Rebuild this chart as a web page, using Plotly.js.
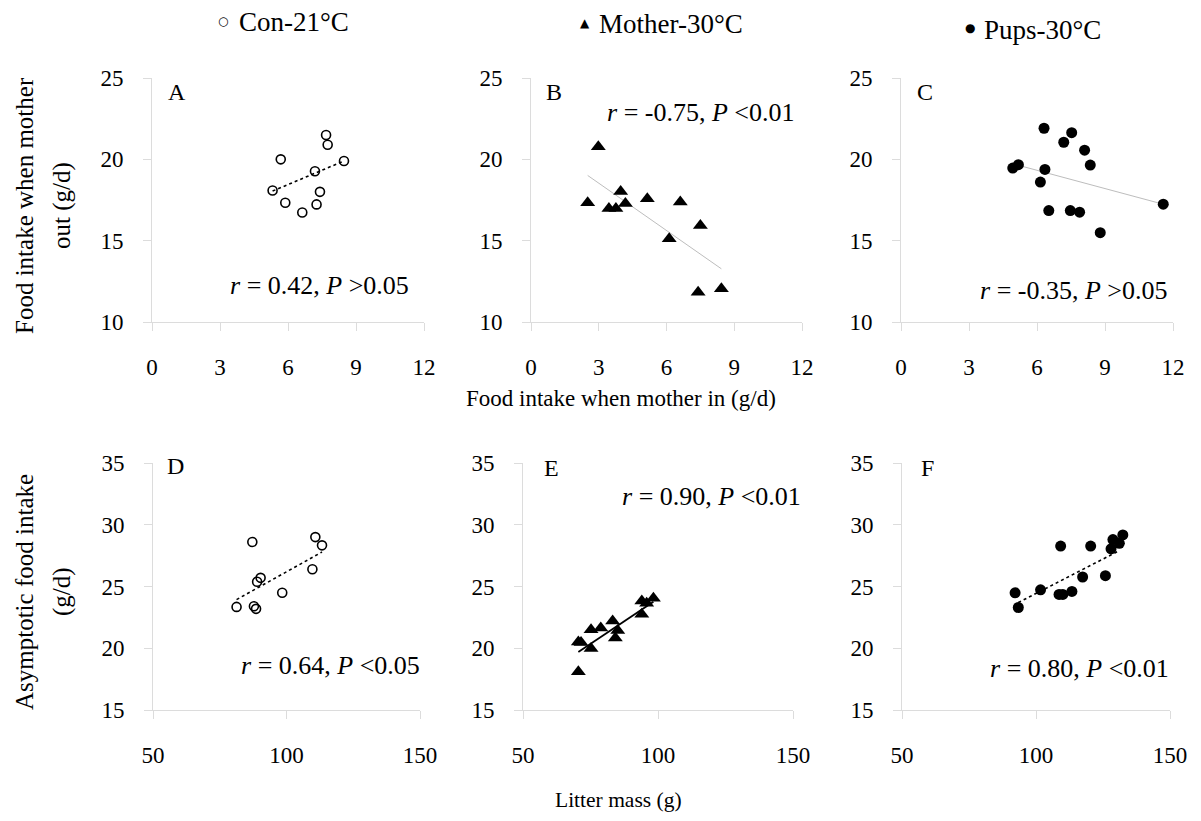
<!DOCTYPE html>
<html><head><meta charset="utf-8">
<script src="https://cdn.plot.ly/plotly-3.0.1.min.js"></script>
<style>html,body{margin:0;padding:0;background:#fff}#c{width:1201px;height:821px}</style>
</head><body><div id="c"></div>
<script>
// Panel A: Con-21°C, food intake mother in vs out
const aX = [7.68, 7.75, 5.68, 8.47, 7.19, 5.32, 7.41, 5.88, 7.26, 6.63];
const aY = [21.5, 20.9, 20.0, 19.9, 19.27, 18.08, 18.0, 17.33, 17.23, 16.73];
const aTrendX = [5.32, 8.47];
const aTrendY = [18.05, 19.9];
// Panel B: Mother-30°C
const bX = [2.98, 2.51, 3.97, 3.45, 3.76, 4.18, 5.15, 6.61, 7.5, 6.12, 7.40, 8.43];
const bY = [20.78, 17.33, 18.02, 16.98, 16.98, 17.28, 17.57, 17.37, 15.93, 15.12, 11.83, 12.04];
const bTrendX = [2.51, 8.43];
const bTrendY = [19.01, 13.27];
// Panel C: Pups-30°C
const cX = [6.31, 7.53, 7.18, 8.10, 8.35, 4.93, 5.18, 6.35, 6.15, 6.52, 7.47, 7.88, 8.79, 11.57];
const cY = [21.91, 21.64, 21.05, 20.56, 19.65, 19.46, 19.67, 19.38, 18.6, 16.85, 16.85, 16.75, 15.49, 17.24];
const cTrendX = [5.0, 11.57];
const cTrendY = [19.7, 17.24];
// Panel D: Con-21°C, litter mass vs asymptotic food intake
const dX = [87.2, 110.8, 113.3, 109.7, 90.3, 89.0, 98.4, 81.3, 87.8, 88.6];
const dY = [28.6, 29.0, 28.33, 26.4, 25.7, 25.38, 24.5, 23.35, 23.4, 23.19];
const dTrendX = [81.3, 113.3];
const dTrendY = [23.94, 27.79];
// Panel E: Mother-30°C
const eX = [70.5, 70.5, 71.5, 75.2, 75.2, 78.8, 83.2, 84.2, 85.1, 94.0, 94.0, 95.8, 98.3];
const eY = [18.1, 20.5, 20.46, 19.98, 21.5, 21.64, 22.2, 20.84, 21.43, 22.76, 23.83, 23.65, 24.05];
const eTrendX = [70.5, 98.3];
const eTrendY = [19.7, 23.77];
// Panel F: Pups-30°C
const fX = [92.2, 93.4, 101.7, 108.6, 110.0, 109.2, 113.4, 117.4, 120.4, 125.9, 128.0, 128.7, 131.1, 132.4];
const fY = [24.49, 23.3, 24.73, 24.36, 24.36, 28.27, 24.6, 25.77, 28.27, 25.88, 28.05, 28.8, 28.5, 29.18];
const fTrendX = [93.4, 130.7];
const fTrendY = [23.7, 27.86];

const panelLetters = ['A','B','C','D','E','F'];
const statTexts = [
  '<i>r</i> = 0.42, <i>P</i> >0.05',
  '<i>r</i> = -0.75, <i>P</i> <0.01',
  '<i>r</i> = -0.35, <i>P</i> >0.05',
  '<i>r</i> = 0.64, <i>P</i> <0.05',
  '<i>r</i> = 0.90, <i>P</i> <0.01',
  '<i>r</i> = 0.80, <i>P</i> <0.01'
];
const groupNames = ['Con-21°C', 'Mother-30°C', 'Pups-30°C'];
const topXTicks = [0, 3, 6, 9, 12];
const topYTicks = [10, 15, 20, 25];
const botXTicks = [50, 100, 150];
const botYTicks = [15, 20, 25, 30, 35];

const W = 1201, H = 821;
const fx = p => p / W;
const fy = p => 1 - p / H;
const SERIF = 'Liberation Serif';

const openCircle = {symbol: 'circle-open', size: 9, color: '#000', line: {width: 1.6, color: '#000'}};
const triangle = {symbol: 'triangle-up', size: 13, color: '#000'};
const dot = {symbol: 'circle', size: 11, color: '#000'};

function pts(x, y, ax, marker) {
  return {x, y, xaxis: 'x' + ax, yaxis: 'y' + ax, type: 'scatter', mode: 'markers', marker, showlegend: false, hoverinfo: 'skip'};
}
function trend(x, y, ax, line) {
  return {x, y, xaxis: 'x' + ax, yaxis: 'y' + ax, type: 'scatter', mode: 'lines', line, showlegend: false, hoverinfo: 'skip'};
}
const dotted = {color: '#000', width: 1.6, dash: 'dot'};
const grey = {color: '#bdbdbd', width: 1};
const solid = {color: '#000', width: 1.8};

const data = [
  trend(aTrendX, aTrendY, '', dotted), pts(aX, aY, '', openCircle),
  trend(bTrendX, bTrendY, '2', grey), pts(bX, bY, '2', triangle),
  trend(cTrendX, cTrendY, '3', grey), pts(cX, cY, '3', dot),
  trend(dTrendX, dTrendY, '4', dotted), pts(dX, dY, '4', openCircle),
  trend(eTrendX, eTrendY, '5', solid), pts(eX, eY, '5', triangle),
  trend(fTrendX, fTrendY, '6', dotted), pts(fX, fY, '6', dot)
];

function axis(domain, range, ticks, anchor, standoff) {
  return {
    domain, range, tickvals: ticks, ticktext: ticks.map(String), anchor,
    showgrid: false, zeroline: false, showline: true, linecolor: '#dcdcdc', linewidth: 1,
    ticks: 'outside', ticklen: 8, tickcolor: '#dcdcdc', tickwidth: 1, ticklabelstandoff: standoff,
    tickfont: {family: SERIF, size: 23, color: '#000'}, fixedrange: true
  };
}

const colsTop = [[152, 424], [531, 802], [901, 1173]];
const colsBot = [[153, 420], [523, 793], [902, 1170]];
const rowTop = [78, 322];
const rowBot = [463, 710];

const layout = {
  width: W, height: H, margin: {l: 0, r: 0, t: 0, b: 0},
  paper_bgcolor: '#fff', plot_bgcolor: '#fff', showlegend: false,
  font: {family: SERIF, color: '#000'},
  annotations: []
};
const ids = ['', '2', '3', '4', '5', '6'];
for (let i = 0; i < 6; i++) {
  const top = i < 3;
  const c = top ? colsTop[i] : colsBot[i - 3];
  const r = top ? rowTop : rowBot;
  layout['xaxis' + ids[i]] = axis([fx(c[0]), fx(c[1])], top ? [0, 12] : [50, 150], top ? topXTicks : botXTicks, 'y' + ids[i], 16);
  layout['yaxis' + ids[i]] = axis([fy(r[1]), fy(r[0])], top ? [10, 25] : [15, 35], top ? topYTicks : botYTicks, 'x' + ids[i], 15);
}

// Panel letters
const letterPos = [[166, 92], [544, 92], [915, 92], [165, 466], [542, 468], [919, 468]];
panelLetters.forEach((t, i) => layout.annotations.push({
  text: t, xref: 'paper', yref: 'paper', x: fx(letterPos[i][0]), y: fy(letterPos[i][1]),
  xanchor: 'left', yanchor: 'middle', showarrow: false,
  font: {family: SERIF, size: 24, color: '#000', weight: 300}
}));
// Stat texts
const statPos = [[319, 285], [701, 113], [1074, 290], [330, 665], [711, 497], [1079, 668]];
statTexts.forEach((t, i) => layout.annotations.push({
  text: t, xref: 'paper', yref: 'paper', x: fx(statPos[i][0]), y: fy(statPos[i][1]),
  xanchor: 'center', yanchor: 'middle', showarrow: false,
  font: {family: SERIF, size: 26, color: '#000'}
}));
// Axis titles
layout.annotations.push({text: 'Food intake when mother in (g/d)', xref: 'paper', yref: 'paper',
  x: fx(621), y: fy(398), xanchor: 'center', yanchor: 'middle', showarrow: false, font: {family: SERIF, size: 23, color: '#000'}});
layout.annotations.push({text: 'Litter mass (g)', xref: 'paper', yref: 'paper',
  x: fx(618), y: fy(800), xanchor: 'center', yanchor: 'middle', showarrow: false, font: {family: SERIF, size: 21.5, color: '#000'}});
const yTitleLines = [['Food intake when mother', 24, 206], ['out (g/d)', 62, 206], ['Asymptotic food intake', 24, 592], ['(g/d)', 62, 592]];
yTitleLines.forEach(l => layout.annotations.push({text: l[0], xref: 'paper', yref: 'paper',
  x: fx(l[1]), y: fy(l[2]), xanchor: 'center', yanchor: 'middle', showarrow: false, textangle: -90, font: {family: SERIF, size: 25, color: '#000'}}));
// Legend
const legSym = ['○', '▲', '●'];
const legSymPos = [[223, 21], [585, 23], [970, 28]];
const legTxtPos = [[237, 22], [597, 24], [982, 30]];
groupNames.forEach((g, i) => {
  layout.annotations.push({text: legSym[i], xref: 'paper', yref: 'paper', x: fx(legSymPos[i][0]), y: fy(legSymPos[i][1]),
    xanchor: 'center', yanchor: 'middle', showarrow: false, font: {family: 'DejaVu Sans', size: 12, color: '#000'}});
  layout.annotations.push({text: g, xref: 'paper', yref: 'paper', x: fx(legTxtPos[i][0]), y: fy(legTxtPos[i][1]),
    xanchor: 'left', yanchor: 'middle', showarrow: false, font: {family: SERIF, size: 27, color: '#000'}});
});

Plotly.newPlot('c', data, layout, {staticPlot: true, displayModeBar: false});
</script></body></html>
